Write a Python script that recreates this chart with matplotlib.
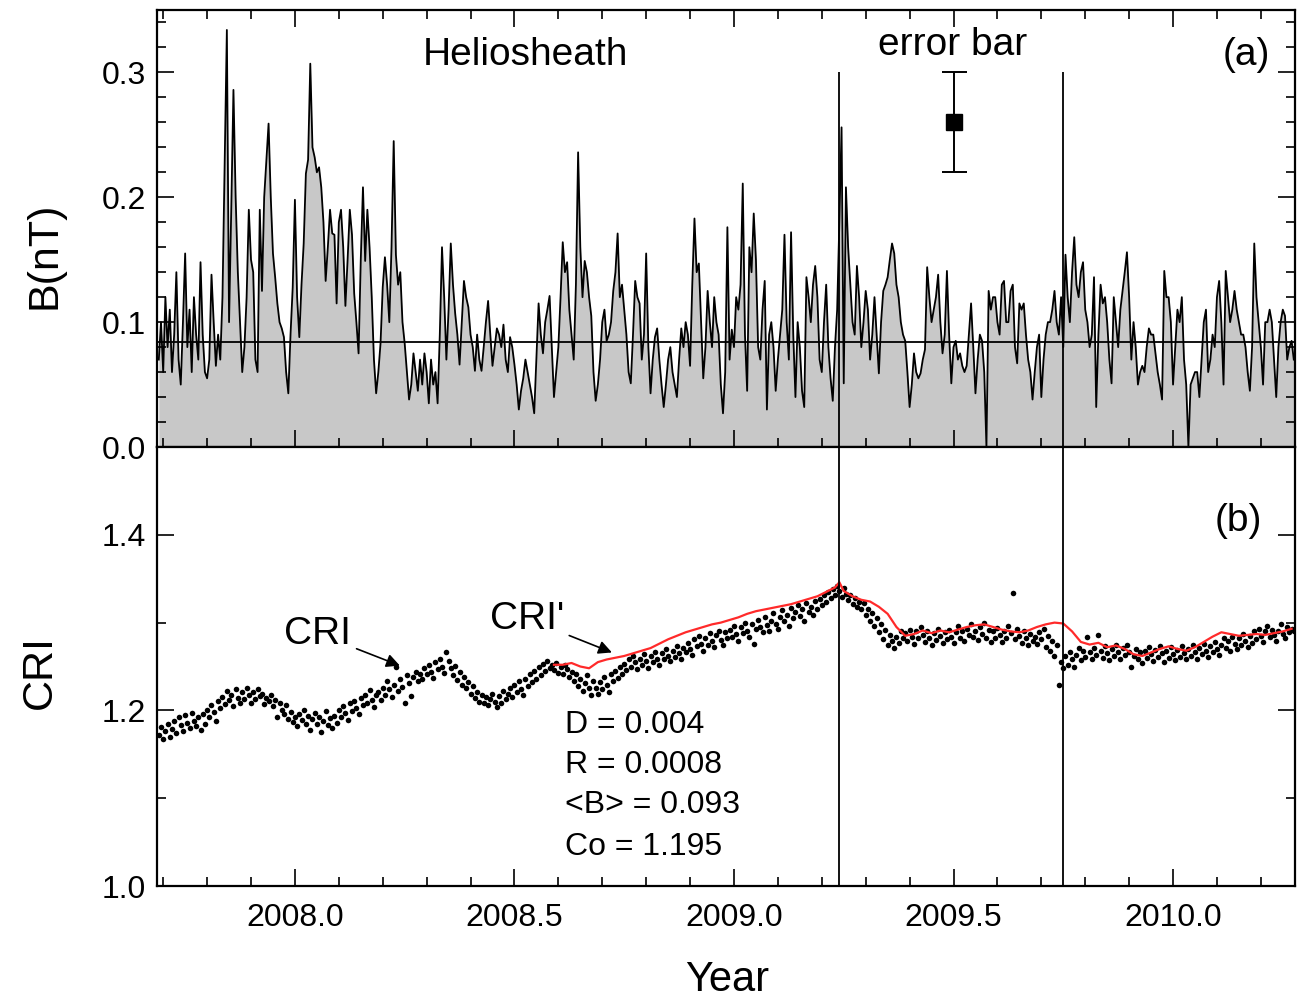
import numpy as np
import matplotlib
matplotlib.use('Agg')
import matplotlib.pyplot as plt
from matplotlib.ticker import MultipleLocator, FormatStrFormatter

plt.rcParams['font.family'] = ['Liberation Sans', 'DejaVu Sans']

# ---------------- data ----------------
B_START = 2007.690
B_STEP = 0.005
B_VALUES = [
    0.07, 0.10, 0.06, 0.12, 0.08, 0.11, 0.06, 0.09, 0.14, 0.07, 0.05, 0.10, 0.155, 0.08, 0.11, 0.06, 0.12, 0.09, 0.07, 0.148,
    0.09, 0.06, 0.055, 0.07, 0.138, 0.10, 0.065, 0.09, 0.07, 0.12, 0.227, 0.334, 0.10, 0.19, 0.286, 0.20, 0.14, 0.10, 0.06, 0.08,
    0.12, 0.19, 0.15, 0.14, 0.07, 0.06, 0.19, 0.125, 0.20, 0.23, 0.259, 0.20, 0.155, 0.136, 0.115, 0.10, 0.095, 0.088, 0.06, 0.043,
    0.09, 0.128, 0.198, 0.12, 0.088, 0.13, 0.163, 0.219, 0.23, 0.307, 0.24, 0.232, 0.22, 0.224, 0.208, 0.18, 0.133, 0.16, 0.19, 0.171,
    0.17, 0.115, 0.18, 0.19, 0.16, 0.113, 0.15, 0.19, 0.17, 0.123, 0.10, 0.075, 0.15, 0.208, 0.149, 0.19, 0.16, 0.12, 0.07, 0.043,
    0.06, 0.083, 0.128, 0.152, 0.13, 0.10, 0.16, 0.245, 0.154, 0.13, 0.14, 0.10, 0.083, 0.06, 0.038, 0.05, 0.075, 0.06, 0.045, 0.07,
    0.05, 0.075, 0.06, 0.035, 0.07, 0.05, 0.06, 0.035, 0.09, 0.16, 0.12, 0.07, 0.11, 0.163, 0.13, 0.107, 0.09, 0.066, 0.10, 0.133,
    0.12, 0.112, 0.09, 0.08, 0.061, 0.09, 0.07, 0.061, 0.08, 0.10, 0.117, 0.09, 0.065, 0.08, 0.095, 0.09, 0.08, 0.098, 0.07, 0.06,
    0.088, 0.08, 0.066, 0.05, 0.03, 0.045, 0.055, 0.07, 0.06, 0.05, 0.04, 0.027, 0.07, 0.115, 0.09, 0.075, 0.10, 0.11, 0.121, 0.08,
    0.04, 0.06, 0.08, 0.12, 0.164, 0.14, 0.148, 0.11, 0.09, 0.07, 0.13, 0.236, 0.16, 0.12, 0.149, 0.14, 0.12, 0.105, 0.06, 0.037,
    0.05, 0.07, 0.10, 0.11, 0.085, 0.09, 0.10, 0.125, 0.14, 0.171, 0.12, 0.13, 0.11, 0.09, 0.06, 0.051, 0.09, 0.133, 0.12, 0.115,
    0.07, 0.09, 0.155, 0.08, 0.043, 0.07, 0.088, 0.095, 0.07, 0.05, 0.032, 0.05, 0.07, 0.08, 0.06, 0.05, 0.04, 0.07, 0.095, 0.08,
    0.10, 0.09, 0.065, 0.13, 0.183, 0.14, 0.147, 0.10, 0.055, 0.08, 0.125, 0.10, 0.08, 0.12, 0.10, 0.09, 0.05, 0.027, 0.06, 0.176,
    0.07, 0.094, 0.08, 0.12, 0.11, 0.13, 0.211, 0.09, 0.045, 0.16, 0.14, 0.187, 0.15, 0.08, 0.07, 0.11, 0.133, 0.03, 0.09, 0.10,
    0.08, 0.045, 0.07, 0.09, 0.11, 0.17, 0.10, 0.07, 0.172, 0.09, 0.04, 0.10, 0.08, 0.045, 0.032, 0.136, 0.12, 0.10, 0.13, 0.145,
    0.12, 0.07, 0.06, 0.10, 0.13, 0.08, 0.055, 0.037, 0.08, 0.11, 0.18, 0.256, 0.051, 0.208, 0.16, 0.13, 0.10, 0.09, 0.145, 0.12,
    0.08, 0.10, 0.125, 0.11, 0.07, 0.09, 0.12, 0.09, 0.059, 0.10, 0.125, 0.13, 0.136, 0.15, 0.163, 0.155, 0.13, 0.12, 0.10, 0.09,
    0.085, 0.06, 0.032, 0.05, 0.075, 0.06, 0.055, 0.059, 0.07, 0.078, 0.144, 0.12, 0.10, 0.11, 0.12, 0.138, 0.10, 0.075, 0.09, 0.141,
    0.09, 0.051, 0.08, 0.085, 0.07, 0.075, 0.065, 0.06, 0.065, 0.09, 0.115, 0.08, 0.043, 0.07, 0.09, 0.085, 0.06, 0.0, 0.125, 0.11,
    0.12, 0.12, 0.10, 0.09, 0.13, 0.133, 0.10, 0.10, 0.125, 0.13, 0.08, 0.067, 0.115, 0.11, 0.115, 0.09, 0.07, 0.06, 0.038, 0.06,
    0.08, 0.09, 0.04, 0.07, 0.09, 0.10, 0.10, 0.11, 0.125, 0.10, 0.09, 0.12, 0.08, 0.154, 0.12, 0.10, 0.14, 0.168, 0.13, 0.12,
    0.14, 0.148, 0.11, 0.10, 0.08, 0.09, 0.136, 0.032, 0.09, 0.13, 0.115, 0.12, 0.10, 0.07, 0.051, 0.12, 0.10, 0.08, 0.11, 0.125,
    0.14, 0.156, 0.12, 0.07, 0.10, 0.08, 0.05, 0.06, 0.065, 0.06, 0.08, 0.095, 0.09, 0.09, 0.075, 0.06, 0.05, 0.038, 0.141, 0.12,
    0.12, 0.10, 0.05, 0.08, 0.11, 0.10, 0.12, 0.07, 0.05, 0.0, 0.05, 0.055, 0.06, 0.06, 0.04, 0.07, 0.10, 0.11, 0.06, 0.07,
    0.09, 0.08, 0.12, 0.133, 0.10, 0.05, 0.141, 0.12, 0.10, 0.11, 0.125, 0.11, 0.10, 0.09, 0.09, 0.08, 0.06, 0.045, 0.08, 0.163,
    0.12, 0.10, 0.08, 0.05, 0.10, 0.10, 0.11, 0.10, 0.07, 0.04, 0.08, 0.10, 0.11, 0.105, 0.07, 0.08, 0.085, 0.07,
]

CRI_START = 2007.690
CRI_STEP = 0.005
CRI_VALUES = [
    1.172, 1.181, 1.168, 1.177, 1.185, 1.170, 1.179, 1.188, 1.174, 1.193, 1.183, 1.176, 1.195, 1.186, 1.180, 1.197, 1.188, 1.182, 1.192, 1.178,
    1.196, 1.185, 1.201, 1.192, 1.206, 1.198, 1.188, 1.211, 1.203, 1.215, 1.207, 1.222, 1.212, 1.218, 1.205, 1.224, 1.214, 1.209, 1.221, 1.213,
    1.226, 1.217, 1.208, 1.221, 1.213, 1.224, 1.216, 1.219, 1.207, 1.214, 1.211, 1.218, 1.205, 1.212, 1.193, 1.209, 1.201, 1.196, 1.206, 1.190,
    1.198, 1.187, 1.193, 1.182, 1.196, 1.189, 1.201, 1.185, 1.194, 1.178, 1.190, 1.197, 1.184, 1.192, 1.175, 1.188, 1.199, 1.183, 1.191, 1.180,
    1.194, 1.186, 1.201, 1.192, 1.205, 1.197, 1.189, 1.208, 1.199, 1.211, 1.203, 1.196, 1.214, 1.206, 1.218, 1.209, 1.223, 1.212, 1.204, 1.217,
    1.221, 1.212, 1.226, 1.218, 1.233, 1.224, 1.215, 1.229, 1.249, 1.222, 1.236, 1.227, 1.208, 1.240, 1.231, 1.216, 1.238, 1.244, 1.233, 1.241,
    1.236, 1.248, 1.241, 1.252, 1.244, 1.237, 1.255, 1.247, 1.259, 1.250, 1.243, 1.266, 1.256, 1.248, 1.240, 1.251, 1.235, 1.244, 1.229, 1.238,
    1.225, 1.232, 1.219, 1.228, 1.214, 1.221, 1.210, 1.217, 1.208, 1.215, 1.206, 1.213, 1.219, 1.210, 1.204, 1.216, 1.209, 1.222, 1.213, 1.219,
    1.226, 1.215, 1.229, 1.221, 1.233, 1.224, 1.218, 1.236, 1.228, 1.241, 1.232, 1.245, 1.236, 1.249, 1.240, 1.253, 1.245, 1.256, 1.248, 1.252,
    1.246, 1.254, 1.243, 1.250, 1.241, 1.252, 1.247, 1.238, 1.244, 1.233, 1.241, 1.228, 1.236, 1.222, 1.231, 1.240, 1.226, 1.218, 1.234, 1.225,
    1.219, 1.232, 1.224, 1.238, 1.229, 1.221, 1.242, 1.234, 1.245, 1.237, 1.249, 1.241, 1.253, 1.246, 1.258, 1.250, 1.262, 1.255, 1.247, 1.259,
    1.252, 1.264, 1.256, 1.248, 1.262, 1.255, 1.267, 1.259, 1.252, 1.265, 1.258, 1.270, 1.262, 1.256, 1.268, 1.261, 1.273, 1.265, 1.259, 1.271,
    1.266, 1.277, 1.270, 1.263, 1.281, 1.273, 1.285, 1.276, 1.268, 1.283, 1.275, 1.288, 1.279, 1.272, 1.286, 1.291, 1.280, 1.274, 1.289, 1.283,
    1.292, 1.284, 1.296, 1.287, 1.279, 1.295, 1.288, 1.300, 1.291, 1.284, 1.298, 1.276, 1.293, 1.303, 1.295, 1.289, 1.306, 1.297, 1.290, 1.302,
    1.311, 1.298, 1.293, 1.306, 1.314, 1.302, 1.309, 1.296, 1.317, 1.305, 1.312, 1.320, 1.308, 1.315, 1.302, 1.322, 1.312, 1.318, 1.309, 1.325,
    1.316, 1.327, 1.320, 1.331, 1.324, 1.335, 1.328, 1.338, 1.331, 1.342, 1.336, 1.329, 1.339, 1.333, 1.326, 1.331, 1.321, 1.328, 1.318, 1.324,
    1.315, 1.322, 1.309, 1.316, 1.302, 1.311, 1.296, 1.305, 1.289, 1.298, 1.281, 1.292, 1.275, 1.286, 1.279, 1.271, 1.284, 1.277, 1.290, 1.282,
    1.288, 1.279, 1.292, 1.284, 1.276, 1.290, 1.282, 1.295, 1.286, 1.278, 1.291, 1.283, 1.274, 1.288, 1.280, 1.293, 1.285, 1.277, 1.289, 1.281,
    1.292, 1.284, 1.277, 1.289, 1.296, 1.282, 1.290, 1.279, 1.293, 1.286, 1.298, 1.284, 1.291, 1.280, 1.295, 1.287, 1.300, 1.283, 1.292, 1.278,
    1.290, 1.282, 1.294, 1.286, 1.278, 1.291, 1.283, 1.296, 1.288, 1.334, 1.281, 1.293, 1.285, 1.277, 1.290, 1.282, 1.274, 1.287, 1.279, 1.284,
    1.276, 1.289, 1.281, 1.293, 1.272, 1.285, 1.268, 1.279, 1.262, 1.274, 1.229, 1.255, 1.248, 1.262, 1.252, 1.266, 1.258, 1.249, 1.263, 1.271,
    1.257, 1.268, 1.261, 1.284, 1.266, 1.259, 1.271, 1.263, 1.286, 1.268, 1.260, 1.273, 1.265, 1.257, 1.270, 1.262, 1.274, 1.266, 1.258, 1.271,
    1.263, 1.275, 1.267, 1.250, 1.262, 1.270, 1.258, 1.266, 1.254, 1.268, 1.260, 1.272, 1.264, 1.256, 1.269, 1.261, 1.273, 1.265, 1.255, 1.268,
    1.260, 1.272, 1.264, 1.257, 1.269, 1.261, 1.273, 1.265, 1.258, 1.270, 1.262, 1.275, 1.267, 1.259, 1.271, 1.264, 1.276, 1.268, 1.261, 1.273,
    1.266, 1.278, 1.270, 1.263, 1.275, 1.282, 1.271, 1.279, 1.268, 1.284, 1.276, 1.270, 1.282, 1.274, 1.287, 1.279, 1.272, 1.285, 1.277, 1.290,
    1.281, 1.293, 1.285, 1.278, 1.290, 1.296, 1.284, 1.292, 1.286, 1.279, 1.291, 1.298, 1.287, 1.283, 1.295, 1.289, 1.293, 1.290,
]

FIT_YEARS = [
    2008.59, 2008.61, 2008.63, 2008.65, 2008.67, 2008.69, 2008.71, 2008.73, 2008.75, 2008.77,
    2008.79, 2008.81, 2008.83, 2008.85, 2008.87, 2008.89, 2008.91, 2008.93, 2008.95, 2008.97,
    2008.99, 2009.01, 2009.03, 2009.05, 2009.07, 2009.09, 2009.11, 2009.13, 2009.15, 2009.17,
    2009.19, 2009.21, 2009.23, 2009.24, 2009.25, 2009.27, 2009.29, 2009.31, 2009.33, 2009.35,
    2009.37, 2009.39, 2009.41, 2009.43, 2009.45, 2009.47, 2009.49, 2009.51, 2009.53, 2009.55,
    2009.57, 2009.59, 2009.61, 2009.63, 2009.65, 2009.67, 2009.69, 2009.71, 2009.73, 2009.75,
    2009.77, 2009.79, 2009.81, 2009.83, 2009.85, 2009.87, 2009.89, 2009.91, 2009.93, 2009.95,
    2009.97, 2009.99, 2010.01, 2010.03, 2010.05, 2010.07, 2010.09, 2010.11, 2010.13, 2010.15,
    2010.17, 2010.19, 2010.21, 2010.23, 2010.25, 2010.27,
]
FIT_VALUES = [
    1.252, 1.252, 1.254, 1.250, 1.248, 1.255, 1.258, 1.260, 1.262, 1.265,
    1.268, 1.271, 1.276, 1.281, 1.285, 1.289, 1.292, 1.295, 1.298, 1.300,
    1.303, 1.306, 1.310, 1.313, 1.315, 1.317, 1.319, 1.321, 1.324, 1.327,
    1.330, 1.335, 1.340, 1.346, 1.336, 1.330, 1.326, 1.324, 1.318, 1.310,
    1.295, 1.285, 1.287, 1.291, 1.288, 1.291, 1.289, 1.292, 1.295, 1.297,
    1.298, 1.295, 1.292, 1.290, 1.289, 1.291, 1.295, 1.298, 1.300, 1.299,
    1.290, 1.278, 1.275, 1.277, 1.272, 1.274, 1.270, 1.264, 1.262, 1.266,
    1.270, 1.273, 1.270, 1.268, 1.272, 1.278, 1.284, 1.289, 1.287, 1.285,
    1.286, 1.287, 1.286, 1.288, 1.290, 1.293,
]

B_MEAN = 0.084
VLINE_YEARS = [2009.24, 2009.75]
ERR_YEAR = 2009.5
ERR_B = 0.26
ERR_SIZE = 0.04
STATS_LINES = ["D = 0.004", "R = 0.0008", "<B> = 0.093", "Co = 1.195"]
XTICKS = [2008.0, 2008.5, 2009.0, 2009.5, 2010.0]
XLIM = (2007.686, 2010.278)

# ---------------- figure ----------------
b_years = B_START + B_STEP * np.arange(len(B_VALUES))
cri_years = CRI_START + CRI_STEP * np.arange(len(CRI_VALUES))

fig = plt.figure(figsize=(12.99, 9.98), dpi=100)
ax1 = fig.add_axes([0.1209, 0.5521, 0.8761, 0.4379])
ax2 = fig.add_axes([0.1209, 0.1122, 0.8761, 0.4399], sharex=ax1)

# top panel
ax1.fill_between(b_years, 0, B_VALUES, color='#c8c8c8', lw=0)
ax1.plot(b_years, B_VALUES, color='k', lw=1.3)
ax1.axhline(B_MEAN, color='k', lw=1.3)
ax1.vlines(VLINE_YEARS, 0, 0.30, color='k', lw=1.3)
ax1.errorbar([ERR_YEAR], [ERR_B], yerr=[ERR_SIZE], fmt='s', color='k', ms=12,
             capsize=9, elinewidth=1.4, capthick=1.4)
ax1.set_ylim(0, 0.35)
ax1.set_xlim(*XLIM)
ax1.yaxis.set_major_locator(MultipleLocator(0.1))
ax1.yaxis.set_minor_locator(MultipleLocator(0.02))
ax1.yaxis.set_major_formatter(FormatStrFormatter('%.1f'))
ax1.text(2008.524, 0.3136, 'Heliosheath', fontsize=28, ha='center', va='center')
ax1.text(2009.499, 0.3216, 'error bar', fontsize=28, ha='center', va='center')
ax1.text(2010.168, 0.3136, '(a)', fontsize=28, ha='center', va='center')
ax1.tick_params(labelbottom=False)

# bottom panel
ax2.plot(cri_years, CRI_VALUES, 'o', color='k', ms=4.0, mew=0)
ax2.plot(FIT_YEARS, FIT_VALUES, color='#ff2a2a', lw=1.6)
for yv in VLINE_YEARS:
    ax2.axvline(yv, color='k', lw=1.3)
ax2.set_ylim(1.0, 1.5)
ax2.yaxis.set_major_locator(MultipleLocator(0.2))
ax2.yaxis.set_minor_locator(MultipleLocator(0.1))
ax2.yaxis.set_major_formatter(FormatStrFormatter('%.1f'))
ax2.set_xticks(XTICKS)
ax2.xaxis.set_minor_locator(MultipleLocator(0.1))
ax2.xaxis.set_major_formatter(FormatStrFormatter('%.1f'))
ax2.text(2010.148, 1.416, '(b)', fontsize=28, ha='center', va='center')

ax2.annotate('CRI', xy=(2008.239, 1.251), xytext=(2008.052, 1.2875),
             fontsize=28, ha='center', va='center',
             arrowprops=dict(arrowstyle='-|>', color='k', lw=1.2,
                             mutation_scale=20, shrinkA=2, shrinkB=0))
ax2.annotate("CRI'", xy=(2008.722, 1.266), xytext=(2008.528, 1.3045),
             fontsize=28, ha='center', va='center',
             arrowprops=dict(arrowstyle='-|>', color='k', lw=1.2,
                             mutation_scale=20, shrinkA=2, shrinkB=0))
stats_y = [1.183, 1.1375, 1.092, 1.044]
for s, yy in zip(STATS_LINES, stats_y):
    ax2.text(2008.615, yy, s, fontsize=23, ha='left', va='center')

for ax in (ax1, ax2):
    for sp in ax.spines.values():
        sp.set_linewidth(1.6)
    ax.tick_params(which='both', direction='in', labelsize=23, width=1.2,
                   left=True, right=True)
    ax.tick_params(which='major', length=12, pad=8)
    ax.tick_params(which='minor', length=6.5)
ax1.tick_params(which='both', top=True, bottom=True)
ax2.tick_params(which='both', top=False, bottom=True)
ax2.tick_params(axis='x', which='major', pad=12)

fig.text(0.0346, 0.7445, 'B(nT)', fontsize=31, rotation=90, ha='center', va='center')
fig.text(0.0308, 0.3267, 'CRI', fontsize=31, rotation=90, ha='center', va='center')
fig.text(0.5597, 0.018, 'Year', fontsize=30, ha='center', va='center')

fig.savefig('out.png', dpi=100)
